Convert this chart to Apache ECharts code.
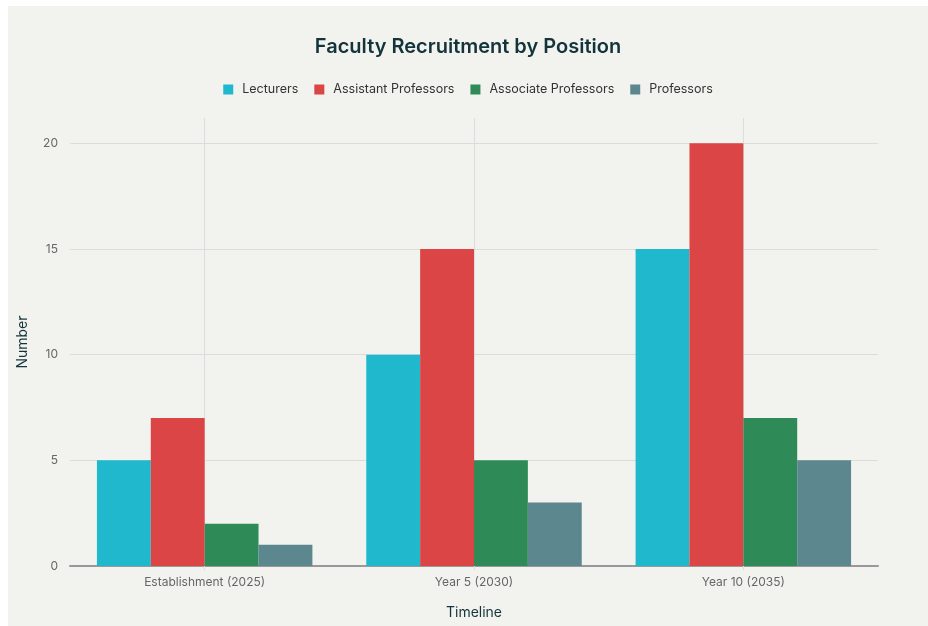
<!DOCTYPE html>
<html>
<head>
<meta charset="utf-8">
<title>Faculty Recruitment by Position</title>
<script src="https://cdn.jsdelivr.net/npm/echarts@6/dist/echarts.min.js"></script>
<style>
  html, body { margin: 0; padding: 0; background: #ffffff; }
  #main { position: absolute; left: 8px; top: 6px; width: 920px; height: 620px; }
</style>
</head>
<body>
<div id="main"></div>
<script>
// data
var categories = ['Establishment (2025)', 'Year 5 (2030)', 'Year 10 (2035)'];
var seriesNames = ['Lecturers', 'Assistant Professors', 'Associate Professors', 'Professors'];
var lecturers = [5, 10, 15];
var assistantProfs = [7, 15, 20];
var associateProfs = [2, 5, 7];
var professors = [1, 3, 5];
var colors = ['#1fb8cd', '#db4545', '#2e8b57', '#5d878f'];

var values = [lecturers, assistantProfs, associateProfs, professors];

var chart = echarts.init(document.getElementById('main'));

var series = [];
for (var i = 0; i < seriesNames.length; i++) {
  series.push({
    name: seriesNames[i],
    type: 'bar',
    data: values[i],
    barGap: '0%',
    barCategoryGap: '20%',
    itemStyle: { color: colors[i] }
  });
}

var option = {
  backgroundColor: '#f2f2ee',
  textStyle: { fontFamily: 'Inter, "Noto Sans", sans-serif' },
  title: {
    text: 'Faculty Recruitment by Position',
    left: 'center',
    top: 26,
    textStyle: { fontSize: 20, fontWeight: 600, color: '#13343b' }
  },
  legend: {
    top: 72,
    left: 'center',
    itemWidth: 10,
    itemHeight: 10,
    itemGap: 16,
    icon: 'rect',
    textStyle: { fontSize: 12.5, color: '#333333', padding: [0, 0, 0, 4] },
    data: seriesNames
  },
  grid: { left: 58, right: 50, top: 112, bottom: 60 },
  xAxis: {
    type: 'category',
    data: categories,
    name: 'Timeline',
    nameLocation: 'middle',
    nameGap: 40,
    nameTextStyle: { fontSize: 14, color: '#13343b' },
    axisLine: { lineStyle: { color: '#999999', width: 2 } },
    axisTick: { show: true, alignWithLabel: true, length: 4, lineStyle: { color: '#dddddd' } },
    axisLabel: { fontSize: 12, color: '#666666', margin: 10 },
    splitLine: { show: true, alignWithLabel: true, lineStyle: { color: '#dcdcdc' } }
  },
  yAxis: {
    type: 'value',
    min: 0,
    max: 21.2,
    interval: 5,
    name: 'Number',
    nameLocation: 'middle',
    nameGap: 40,
    nameTextStyle: { fontSize: 14, color: '#13343b' },
    axisLine: { show: false },
    axisTick: { show: false },
    axisLabel: {
      fontSize: 12, color: '#666666', margin: 12, showMaxLabel: false
    },
    splitLine: { show: true, showMaxLine: false, lineStyle: { color: '#dcdcdc' } }
  },
  series: series
};

chart.setOption(option);
</script>
</body>
</html>
